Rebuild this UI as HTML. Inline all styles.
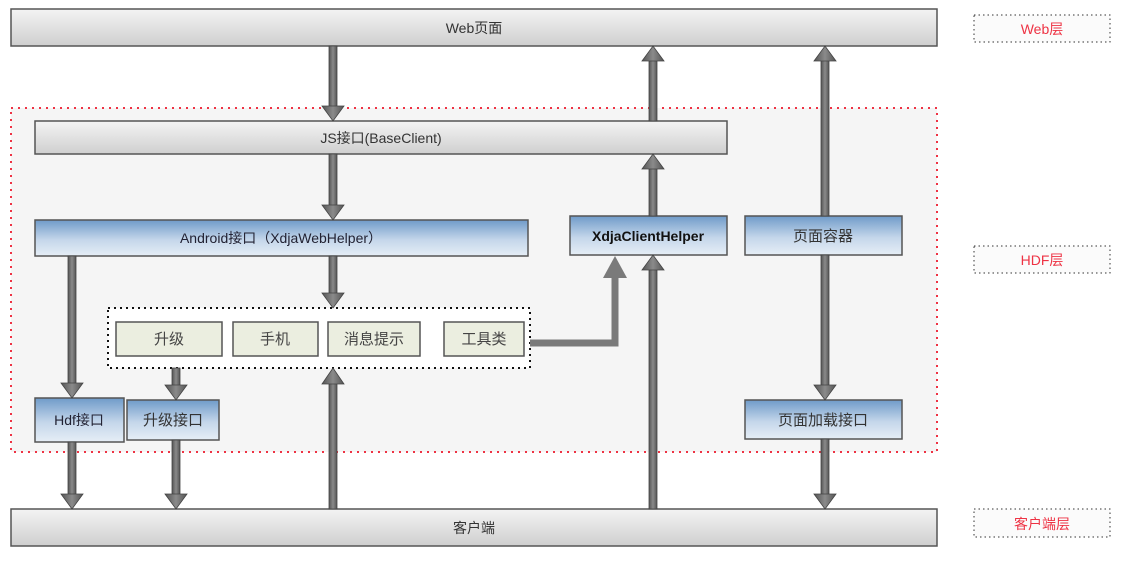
<!DOCTYPE html>
<html><head><meta charset="utf-8"><style>
body{margin:0;background:#fff;}
svg text{font-family:"Liberation Sans","Noto Sans CJK SC",sans-serif;}
</style></head><body>
<svg width="1132" height="564" viewBox="0 0 1132 564" xmlns="http://www.w3.org/2000/svg">
<defs>
<linearGradient id="gray" x1="0" y1="0" x2="0" y2="1"><stop offset="0" stop-color="#f4f4f4"/><stop offset="1" stop-color="#cfcfcf"/></linearGradient>
<linearGradient id="blue" x1="0" y1="0" x2="0" y2="1"><stop offset="0" stop-color="#6f9bc9"/><stop offset="0.55" stop-color="#c4d6ea"/><stop offset="1" stop-color="#e6eef6"/></linearGradient>
<linearGradient id="shaft" x1="0" y1="0" x2="1" y2="0"><stop offset="0" stop-color="#555"/><stop offset="0.5" stop-color="#8a8a8a"/><stop offset="1" stop-color="#555"/></linearGradient>
</defs>
<!-- HDF region -->
<rect x="11" y="108" width="926" height="344" fill="#f5f5f5" stroke="#ee3344" stroke-width="2" stroke-dasharray="2,5"/>
<!-- bars -->
<rect x="11" y="9" width="926" height="37" fill="url(#gray)" stroke="#555" stroke-width="1.5"/>
<text x="474" y="33" font-size="14" text-anchor="middle" fill="#333">Web页面</text>
<rect x="35" y="121" width="692" height="33" fill="url(#gray)" stroke="#555" stroke-width="1.5"/>
<text x="381" y="143" font-size="14" text-anchor="middle" fill="#333">JS接口(BaseClient)</text>
<rect x="11" y="509" width="926" height="37" fill="url(#gray)" stroke="#555" stroke-width="1.5"/>
<text x="474" y="533" font-size="14" text-anchor="middle" fill="#333">客户端</text>
<!-- blue boxes -->
<rect x="35" y="220" width="493" height="36" fill="url(#blue)" stroke="#555" stroke-width="1.5"/>
<text x="281" y="243" font-size="14" text-anchor="middle" fill="#223">Android接口（XdjaWebHelper）</text>
<rect x="570" y="216" width="157" height="39" fill="url(#blue)" stroke="#555" stroke-width="1.5"/>
<text x="648" y="241" font-size="14" font-weight="bold" text-anchor="middle" fill="#111">XdjaClientHelper</text>
<rect x="745" y="216" width="157" height="39" fill="url(#blue)" stroke="#555" stroke-width="1.5"/>
<text x="823" y="241" font-size="15" text-anchor="middle" fill="#333">页面容器</text>
<rect x="35" y="398" width="89" height="44" fill="url(#blue)" stroke="#555" stroke-width="1.5"/>
<text x="79" y="425" font-size="14" text-anchor="middle" fill="#223">Hdf接口</text>
<rect x="127" y="400" width="92" height="40" fill="url(#blue)" stroke="#555" stroke-width="1.5"/>
<text x="173" y="425" font-size="15" text-anchor="middle" fill="#333">升级接口</text>
<rect x="745" y="400" width="157" height="39" fill="url(#blue)" stroke="#555" stroke-width="1.5"/>
<text x="823" y="425" font-size="15" text-anchor="middle" fill="#333">页面加载接口</text>
<!-- group -->
<rect x="108" y="308" width="422" height="60" fill="#fff" stroke="#111" stroke-width="2" stroke-dasharray="2,4"/>
<g fill="#ebeee0" stroke="#555" stroke-width="1.5">
<rect x="116" y="322" width="106" height="34"/><rect x="233" y="322" width="85" height="34"/>
<rect x="328" y="322" width="92" height="34"/><rect x="444" y="322" width="80" height="34"/>
</g>
<g font-size="15" text-anchor="middle" fill="#444">
<text x="169" y="344">升级</text><text x="275" y="344">手机</text><text x="374" y="344">消息提示</text><text x="484" y="344">工具类</text>
</g>
<!-- elbow -->
<path d="M530 343 H615 V275" fill="none" stroke="#7a7a7a" stroke-width="7"/>
<polygon points="603,278 627,278 615,256" fill="#7a7a7a"/>
<!-- arrows -->
<g id="arrows">
<!-- down arrows: shaft then head -->
<g fill="url(#shaft)" stroke="#444" stroke-width="0.8">
<rect x="329" y="46" width="8" height="62"/><polygon points="322,106 344,106 333,121"/>
<rect x="329" y="154" width="8" height="52"/><polygon points="322,205 344,205 333,220"/>
<rect x="329" y="256" width="8" height="38"/><polygon points="322,293 344,293 333,308"/>
<rect x="329" y="383" width="8" height="126"/><polygon points="322,384 344,384 333,368"/>
<rect x="649" y="60" width="8" height="61"/><polygon points="642,61 664,61 653,46"/>
<rect x="649" y="168" width="8" height="48"/><polygon points="642,169 664,169 653,154"/>
<rect x="649" y="269" width="8" height="240"/><polygon points="642,270 664,270 653,255"/>
<rect x="821" y="60" width="8" height="156"/><polygon points="814,61 836,61 825,46"/>
<rect x="821" y="255" width="8" height="131"/><polygon points="814,385 836,385 825,400"/>
<rect x="821" y="439" width="8" height="56"/><polygon points="814,494 836,494 825,509"/>
<rect x="68" y="256" width="8" height="128"/><polygon points="61,383 83,383 72,398"/>
<rect x="68" y="442" width="8" height="53"/><polygon points="61,494 83,494 72,509"/>
<rect x="172" y="368" width="8" height="18"/><polygon points="165,385 187,385 176,400"/>
<rect x="172" y="440" width="8" height="55"/><polygon points="165,494 187,494 176,509"/>
</g>
</g>
<!-- layer labels -->
<g font-size="14" text-anchor="middle" fill="#ee3344">
<rect x="974" y="15" width="136" height="27" fill="#fbfbfb" stroke="#333" stroke-dasharray="1.5,3"/>
<text x="1042" y="34">Web层</text>
<rect x="974" y="246" width="136" height="27" fill="#fbfbfb" stroke="#333" stroke-dasharray="1.5,3"/>
<text x="1042" y="265">HDF层</text>
<rect x="974" y="509" width="136" height="28" fill="#fbfbfb" stroke="#333" stroke-dasharray="1.5,3"/>
<text x="1042" y="529">客户端层</text>
</g>
</svg>
</body></html>
